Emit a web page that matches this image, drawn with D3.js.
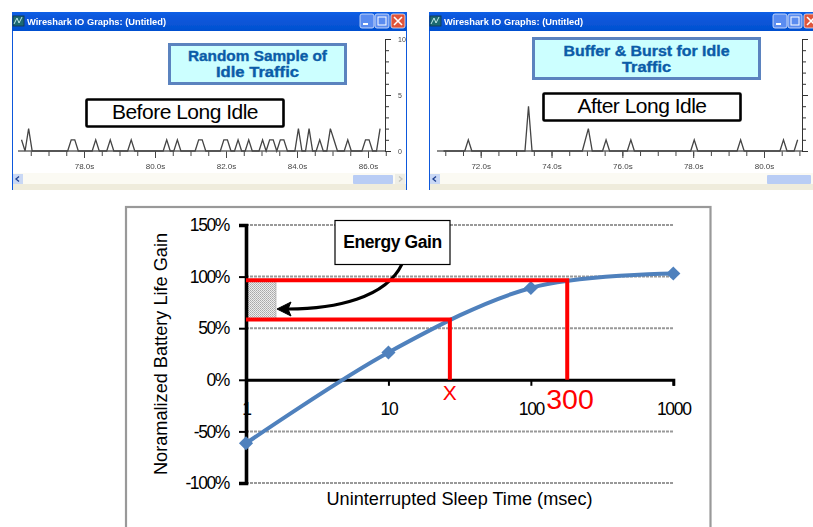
<!DOCTYPE html>
<meta charset="utf-8">
<script src="https://d3js.org/d3.v7.min.js"></script>
<style type="text/css">
body { margin: 0; background: #fff; overflow: hidden; }
svg { display: block; }
text { font-family: "Liberation Sans", Arial, sans-serif; }
</style>
<body></body>
<script>

// Wireshark trace before long idle
var beforeTimes = [76.24,76.34,76.44,76.54,77.54,77.64,77.74,77.84,78.23,78.33,78.43,78.64,78.74,78.84,79.23,79.33,79.43,80.23,80.33,80.43,80.53,80.63,80.73,81.13,81.23,81.33,81.43,81.84,81.94,82.04,82.14,82.24,82.34,82.44,82.54,82.64,82.74,82.93,83.03,83.13,83.23,83.33,83.43,83.53,83.63,83.73,83.94,84.04,84.14,84.24,84.34,84.44,84.54,84.64,84.74,84.84,84.94,85.04,85.14,85.33,85.43,85.53,85.83,85.93,86.03,86.13,86.24,86.34];
var beforeValues = [1,0,2,0,0,1,1,0,0,1,0,0,1,0,0,1,0,0,1,0,0,1,0,0,1,1,0,0,1,1,0,0,1,0,0,1,0,0,1,0,1,1,0,1,1,0,0,2,0,0,2,0,0,1,0,0,2,1,0,0,1,0,0,1,1,0,0,2];

// Wireshark trace after long idle
var afterTimes = [70.95,71.55,71.65,71.75,73.25,73.35,73.45,74.87,75.04,75.15,75.44,75.54,75.64,76.14,76.24,76.34,77.93,78.03,78.13,79.24,79.34,79.44,80.45,80.55,80.65,80.85,80.95];
var afterValues = [0,0,1,0,0,4,0,0,2,0,0,1,0,0,1,0,0,1,0,0,1,0,0,1,0,0,1];

var beforeMajor = [78,80,82,84,86];
var afterMajor = [72,74,76,78,80];
var rateTicks = [0,5,10];

// Battery life chart
var sleepTimes = [1,10,100,1000];
var batteryGain = [-61.5,26.5,89,103];
var gainTicks = [-100,-50,0,50,100,150];
var gridTicks = [-100,-50,50,100,150];
var sleepTicks = [1,10,100,1000];
var lowGain = 58.5, highGain = 96.5;
var lowSleep = 27, highSleep = 180;

var svg = d3.select("body").append("svg")
    .attr("width", 813)
    .attr("height", 527);

var defs = svg.append("defs");
defs.append("filter").attr("id", "soft")
    .attr("x", "-2%").attr("y", "-2%").attr("width", "104%").attr("height", "104%")
  .append("feGaussianBlur").attr("stdDeviation", 0.45);

var bar = defs.append("linearGradient").attr("id", "titlebar")
    .attr("x1", 0).attr("y1", 0).attr("x2", 0).attr("y2", 1);
bar.append("stop").attr("offset", "0%").attr("stop-color", "#0a5fe6");
bar.append("stop").attr("offset", "25%").attr("stop-color", "#0a58dc");
bar.append("stop").attr("offset", "100%").attr("stop-color", "#0450d0");

var dots = defs.append("pattern").attr("id", "dots")
    .attr("width", 2).attr("height", 2).attr("patternUnits", "userSpaceOnUse");
dots.append("rect").attr("width", 2).attr("height", 2).attr("fill", "#ececec");
dots.append("rect").attr("width", 1).attr("height", 1).attr("fill", "#a8a8a8");
dots.append("rect").attr("x", 1).attr("y", 1).attr("width", 1).attr("height", 1).attr("fill", "#b8b8b8");

function drawWindow(w) {
  var g = svg.append("g").attr("filter", "url(#soft)");

  g.append("rect").attr("x", w.left).attr("y", 12).attr("width", w.right - w.left).attr("height", 178).attr("fill", "#0a58dc");
  g.append("rect").attr("x", w.left + 1).attr("y", 31).attr("width", w.right - w.left - 2).attr("height", 142).attr("fill", "#fff");
  g.append("rect").attr("x", w.left).attr("y", 12).attr("width", w.right - w.left).attr("height", 19).attr("fill", "url(#titlebar)");

  // title bar
  g.append("rect").attr("x", w.left + 1).attr("y", 16).attr("width", 11).attr("height", 10).attr("fill", "#1c6a70").attr("stroke", "#0e3d60");
  g.append("path").attr("d", "M" + (w.left + 2) + ",24 l3,-6 l2,5 l3,-6").attr("fill", "none").attr("stroke", "#bfe8e8");
  g.append("text").attr("x", w.left + 15).attr("y", 24.5)
      .attr("textLength", 139).attr("lengthAdjust", "spacingAndGlyphs")
      .attr("fill", "#fff").attr("font-weight", "bold").attr("font-size", 9.5)
      .text("Wireshark IO Graphs: (Untitled)");

  var buttons = [{x: w.right - 47, c: "#5a8cf0"}, {x: w.right - 32, c: "#5a8cf0"}, {x: w.right - 16, c: "#e0553a"}];
  buttons.forEach(function(b, i) {
    g.append("rect").attr("x", b.x).attr("y", 14).attr("width", 14).attr("height", 14).attr("rx", 2)
        .attr("fill", b.c).attr("stroke", "#dfe9fb").attr("stroke-width", 0.8);
    if (i == 0) g.append("rect").attr("x", b.x + 3).attr("y", 23).attr("width", 5).attr("height", 2).attr("fill", "#fff");
    if (i == 1) g.append("rect").attr("x", b.x + 3).attr("y", 17).attr("width", 8).attr("height", 8).attr("fill", "none").attr("stroke", "#fff");
    if (i == 2) g.append("path").attr("d", "M" + (b.x + 3) + ",17 l8,8 M" + (b.x + 11) + ",17 l-8,8").attr("stroke", "#fff").attr("stroke-width", 1.6);
  });

  // plot
  var x = d3.scaleLinear().domain(w.domain).range(w.range);
  var y = d3.scaleLinear().domain([0, 10]).range([151, 39]);

  var line = d3.line()
      .x(function(d) { return x(d[0]); })
      .y(function(d) { return y(d[1]); });

  var minorAxis = d3.axisBottom(x).tickValues(w.minor).tickSize(5).tickFormat("");
  var majorAxis = d3.axisBottom(x).tickValues(w.major).tickSize(7).tickPadding(5)
      .tickFormat(function(d) { return d.toFixed(1) + "s"; });

  g.append("g").attr("transform", "translate(0,151)").call(minorAxis)
      .call(function(a) { a.select(".domain").remove(); a.selectAll("line").attr("stroke", "#444"); });
  var mj = g.append("g").attr("transform", "translate(0,151)").call(majorAxis);
  mj.select(".domain").remove();
  mj.selectAll("line").attr("stroke", "#444");
  mj.selectAll("text").attr("fill", "#444").attr("font-size", 8).attr("font-family", "'DejaVu Sans'");

  g.append("line").attr("x1", w.base0).attr("x2", w.yLine).attr("y1", 151).attr("y2", 151).attr("stroke", "#666").attr("stroke-width", 1.6);

  // trace baseline joins the vertices
  var trace = w.times.map(function(t, i) { return [t, w.values[i]]; });
  g.append("path").attr("d", line(trace)).attr("fill", "none").attr("stroke", "#444").attr("stroke-width", 1.3);

  var rateAxis = d3.axisRight(y).tickValues(d3.range(0, 11)).tickSize(4).tickFormat("");
  var ra = g.append("g").attr("transform", "translate(" + w.yLine + ",0)").call(rateAxis);
  ra.select(".domain").attr("stroke", "#333");
  ra.selectAll("line").attr("stroke", "#333");
  var rb = d3.axisRight(y).tickValues(rateTicks).tickSize(6).tickPadding(7);
  if (!w.rateLabels) rb.tickFormat("");
  var rc = g.append("g").attr("transform", "translate(" + w.yLine + ",0)").call(rb);
  rc.select(".domain").remove();
  rc.selectAll("line").attr("stroke", "#333");
  rc.selectAll("text").attr("fill", "#444").attr("font-size", 7).attr("font-family", "'DejaVu Sans'");

  // scroll bar
  g.append("rect").attr("x", w.left + 1).attr("y", 173).attr("width", w.right - w.left - 2).attr("height", 11).attr("fill", "#fbfaf3");
  g.append("rect").attr("x", w.left + 1).attr("y", 184).attr("width", w.right - w.left - 2).attr("height", 6).attr("fill", "#efecdc");
  g.append("rect").attr("x", w.left + 1).attr("y", 174).attr("width", 10).attr("height", 10).attr("fill", "#c9d8f5");
  g.append("path").attr("d", "M" + (w.left + 7) + ",176.5 l-3,2.5 l3,2.5").attr("fill", "none").attr("stroke", "#1f3f8f").attr("stroke-width", 1.3);
  g.append("rect").attr("x", w.thumb[0]).attr("y", 175).attr("width", w.thumb[1] - w.thumb[0]).attr("height", 9).attr("rx", 1).attr("fill", "#b9cdf5");
  if (w.rateLabels) {
    g.append("rect").attr("x", w.right - 12).attr("y", 174).attr("width", 10).attr("height", 10).attr("fill", "#eeeee6");
    g.append("path").attr("d", "M" + (w.right - 8) + ",176.5 l3,2.5 l-3,2.5").attr("fill", "none").attr("stroke", "#c4c4bc").attr("stroke-width", 1.3);
  }

  // labels over the plot
  var note = svg.append("g");
  note.append("rect").attr("x", w.blue[0]).attr("y", w.blue[1]).attr("width", w.blue[2]).attr("height", w.blue[3])
      .attr("fill", "#ccffff").attr("stroke", "#5b83bf").attr("stroke-width", 3);
  w.blueText.forEach(function(t, i) {
    note.append("text").attr("x", w.blue[0] + w.blue[2] / 2).attr("y", w.blueY + i * 16)
        .attr("text-anchor", "middle").attr("font-weight", "bold").attr("font-size", 13.8)
        .attr("textLength", w.blueLen[i]).attr("lengthAdjust", "spacingAndGlyphs")
        .attr("stroke", "#0b5ca8").attr("stroke-width", 0.35)
        .attr("fill", "#0b5ca8").text(t);
  });
  note.append("rect").attr("x", w.black[0]).attr("y", w.black[1]).attr("width", 197).attr("height", 27)
      .attr("rx", 1).attr("fill", "#fff").attr("stroke", "#000").attr("stroke-width", 2.6);
  note.append("text").attr("x", w.black[0] + 98.5).attr("y", w.black[1] + 19.5)
      .attr("text-anchor", "middle").attr("font-size", 21).attr("letter-spacing", -0.5).attr("fill", "#000").text(w.blackText);
}

drawWindow({
  left: 12, right: 407, domain: [78, 86], range: [84, 368], base0: 18, yLine: 385,
  times: beforeTimes, values: beforeValues, major: beforeMajor,
  minor: d3.range(76.5, 86.6, 0.5), rateLabels: true, thumb: [353, 393],
  blue: [169.5, 44.5, 176, 39], blueText: ["Random Sample of", "Idle Traffic"], blueLen: [139, 83], blueY: 61,
  black: [86.5, 99.5], blackText: "Before Long Idle"
});

drawWindow({
  left: 429, right: 820, domain: [72, 80], range: [480.7, 764], base0: 437, yLine: 802,
  times: afterTimes, values: afterValues, major: afterMajor,
  minor: d3.range(71, 81.1, 0.5), rateLabels: false, thumb: [767, 811],
  blue: [533.5, 38.5, 226, 40], blueText: ["Buffer & Burst for Idle", "Traffic"], blueLen: [166, 49], blueY: 56,
  black: [543.5, 93.5], blackText: "After Long Idle"
});

// bottom panel
svg.append("rect").attr("x", 126).attr("y", 207).attr("width", 584.5).attr("height", 330)
    .attr("fill", "#fff").attr("stroke", "#999").attr("stroke-width", 2.2);

var xScale = d3.scaleLog().domain([1, 1000]).range([246, 673.3]);
var yScale = d3.scaleLinear().domain([-100, 150]).range([483, 225]);

// gridlines
svg.selectAll(".grid")
    .data(gridTicks)
  .enter().append("line")
    .attr("class", "grid")
    .attr("x1", xScale(1))
    .attr("x2", xScale(1000))
    .attr("y1", function(d) { return yScale(d); })
    .attr("y2", function(d) { return yScale(d); })
    .attr("stroke", "#999")
    .attr("stroke-width", 2)
    .attr("stroke-dasharray", "3,1");

// shaded energy gain box
svg.append("rect")
    .attr("x", xScale(1) + 1)
    .attr("y", yScale(highGain))
    .attr("width", 29)
    .attr("height", yScale(lowGain) - yScale(highGain))
    .attr("fill", "url(#dots)")
    .attr("stroke", "#999")
    .attr("stroke-width", 0.6);

// axes
var yAxis = d3.axisLeft(yScale).tickValues(gainTicks).tickSize(7).tickPadding(3)
    .tickFormat(function(d) { return d + "%"; });
var yAxisGroup = svg.append("g").attr("transform", "translate(" + xScale(1) + ",0)").call(yAxis);
yAxisGroup.select(".domain").attr("stroke", "#000").attr("stroke-width", 3.6);
yAxisGroup.selectAll("line").attr("stroke", "#000").attr("stroke-width", 2);
yAxisGroup.selectAll("text").attr("font-size", 17.5).attr("letter-spacing", -1.4).attr("fill", "#000")
    .attr("dx", -7);

var xAxis = d3.axisBottom(xScale).tickValues(sleepTicks).tickSize(6).tickPadding(17)
    .tickFormat(function(d) { return d; });
var xAxisGroup = svg.append("g").attr("transform", "translate(0," + yScale(0) + ")").call(xAxis);
xAxisGroup.select(".domain").attr("stroke", "#000").attr("stroke-width", 3);
xAxisGroup.selectAll("line").attr("stroke", "#000").attr("stroke-width", 2);
xAxisGroup.selectAll("text").attr("font-size", 17.5).attr("letter-spacing", -1.3).attr("fill", "#000");

// series line
var gainPoints = sleepTimes.map(function(t, i) { return [t, batteryGain[i]]; });
var gainLine = d3.line()
    .x(function(d) { return xScale(d[0]); })
    .y(function(d) { return yScale(d[1]); })
    .curve(d3.curveCatmullRom.alpha(0));

svg.append("path")
    .attr("d", gainLine(gainPoints))
    .attr("fill", "none")
    .attr("stroke", "#4f81bd")
    .attr("stroke-width", 4);

svg.selectAll(".marker")
    .data(gainPoints)
  .enter().append("path")
    .attr("class", "marker")
    .attr("d", d3.symbol().type(d3.symbolSquare).size(100))
    .attr("transform", function(d) { return "translate(" + xScale(d[0]) + "," + yScale(d[1]) + ") rotate(45)"; })
    .attr("fill", "#4f81bd");

// callout arrow, under the red lines
svg.append("path")
    .attr("d", "M402,264 C386,298 335,309 288,309")
    .attr("fill", "none")
    .attr("stroke", "#000")
    .attr("stroke-width", 3);
svg.append("path")
    .attr("d", "M277,309 L291,302 L288,309 L291,316 Z")
    .attr("fill", "#000")
    .attr("stroke", "#000");

// red guide lines
var guides = [
  [[1, highGain], [highSleep, highGain], [highSleep, 0]],
  [[1, lowGain], [lowSleep, lowGain], [lowSleep, 0]]
];
var guideLine = d3.line()
    .x(function(d) { return xScale(d[0]); })
    .y(function(d) { return yScale(d[1]); });
svg.selectAll(".guide")
    .data(guides)
  .enter().append("path")
    .attr("class", "guide")
    .attr("d", guideLine)
    .attr("fill", "none")
    .attr("stroke", "#ff0000")
    .attr("stroke-width", 4);

svg.append("text").attr("x", xScale(lowSleep)).attr("y", 400)
    .attr("text-anchor", "middle").attr("font-size", 21).attr("fill", "#ff0000").text("X");
svg.append("text").attr("x", 570).attr("y", 409)
    .attr("text-anchor", "middle").attr("font-size", 28.5).attr("fill", "#ff0000").text("300");

// callout box
svg.append("rect").attr("x", 335).attr("y", 220.5).attr("width", 115).attr("height", 44)
    .attr("fill", "#fff").attr("stroke", "#000").attr("stroke-width", 1.2);
svg.append("text").attr("x", 392.5).attr("y", 248)
    .attr("text-anchor", "middle").attr("font-size", 17.5).attr("font-weight", "bold")
    .attr("letter-spacing", -0.4).attr("fill", "#000").text("Energy Gain");

// axis titles
svg.append("text").attr("x", 459.5).attr("y", 505)
    .attr("text-anchor", "middle").attr("font-size", 19)
    .attr("textLength", 266).attr("lengthAdjust", "spacingAndGlyphs")
    .attr("fill", "#000").text("Uninterrupted Sleep Time (msec)");
svg.append("text").attr("transform", "translate(166.5,354) rotate(-90)")
    .attr("text-anchor", "middle").attr("font-size", 19)
    .attr("textLength", 242).attr("lengthAdjust", "spacingAndGlyphs")
    .attr("fill", "#000").text("Noramalized Battery Life Gain");

</script>
